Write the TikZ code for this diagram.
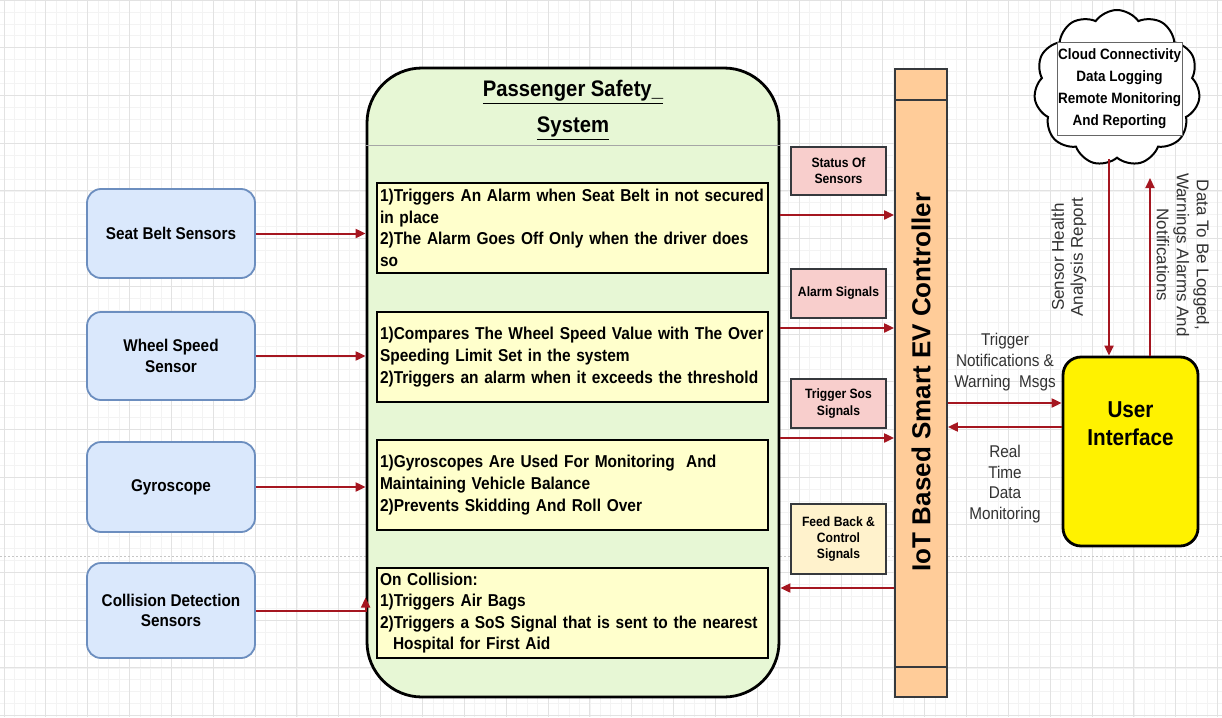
\documentclass[tikz,border=0pt]{standalone}
\usepackage{fontspec}
\setmainfont[FakeStretch=0.9]{Liberation Sans}
\newfontfamily\rotfont{Liberation Sans}
\usetikzlibrary{arrows.meta,shapes.symbols}
\definecolor{arrred}{RGB}{165,22,32}
\definecolor{sensorfill}{RGB}{218,232,252}
\definecolor{sensorborder}{RGB}{108,142,191}
\definecolor{pssfill}{RGB}{231,247,213}
\definecolor{innerfill}{RGB}{255,255,204}
\definecolor{ctrlfill}{RGB}{255,204,153}
\definecolor{labfill}{RGB}{248,206,204}
\definecolor{fbfill}{RGB}{255,242,204}
\definecolor{darkline}{RGB}{54,57,61}
\definecolor{gridmajor}{RGB}{226,226,226}
\definecolor{gridminor}{RGB}{243,243,243}
\definecolor{notetext}{RGB}{50,50,50}
\newcommand{\myfs}[2]{\fontsize{#1}{#2}\selectfont}
\begin{document}
\begin{tikzpicture}[x=1pt,y=-1pt,
  sensor/.style={draw=sensorborder, fill=sensorfill, line width=1.8pt, rounded corners=14pt,
    minimum width=168pt, align=center, font=\bfseries\myfs{17}{20.4}},
  innerbox/.style={draw=black, fill=innerfill, line width=2.2pt, minimum width=391pt,
    text width=385pt, inner sep=3pt, align=left, minimum height=90pt, font=\bfseries\myfs{17.2}{21.6}},
  lab/.style={draw=darkline, line width=1.8pt, minimum width=95pt, align=center,
    inner sep=2pt, font=\bfseries\myfs{13.5}{16.2}},
  note/.style={align=center, text=notetext, font=\myfs{17}{20.6}},
  arr/.style={draw=arrred, line width=2pt, -{Triangle[length=10pt,width=9pt]}},
  minorgrid/.style={draw=gridminor, line width=0.6pt},
  majorgrid/.style={draw=gridmajor, line width=0.8pt}]
\useasboundingbox (0,0) rectangle (1222,717);
\fill[white] (0,0) rectangle (1222,717);
% background grid
\begin{scope}
\clip (0,0) rectangle (1222,717);
\foreach \i in {0,...,117} {\draw[minorgrid] ({3.9+\i*10.4625},0) -- ++(0,717);}
\foreach \j in {0,...,60} {\draw[minorgrid] (0,{\j*11.925}) -- ++(1222,0);}
\foreach \i in {0,...,29} {\draw[majorgrid] ({3.9+\i*41.85},0) -- ++(0,717);}
\foreach \j in {0,...,15} {\draw[majorgrid] (0,{\j*47.7}) -- ++(1222,0);}
\draw[gray!45, line width=0.9pt, dash pattern=on 2pt off 2pt] (0,556) -- (1222,556);
\end{scope}

% sensors
\node[sensor, minimum height=89pt] (seat) at (171,233.5) {Seat Belt Sensors};
\node[sensor, minimum height=88pt] (wheel) at (171,356) {Wheel Speed\\Sensor};
\node[sensor, minimum height=90pt] (gyro) at (171,487) {Gyroscope};
\node[sensor, minimum height=95pt] (coll) at (171,610.5) {Collision Detection\\Sensors};

% passenger safety system
\node[draw=black, fill=pssfill, line width=2.8pt, rounded corners=55pt,
  minimum width=412pt, minimum height=629pt] (pss) at (573,382.5) {};
\draw[gray!70, line width=0.8pt] (pss.west |- 0,145) -- (pss.east |- 0,145);
\node[align=center, font=\bfseries\myfs{22.5}{36}] (title) at (573,110)
  {\underline{Passenger Safety\_}\\\underline{System}};

\node[innerbox] (b1) at (572.5,228) {\hyphenpenalty=10000 1)Triggers An Alarm when Seat Belt in not secured\\in place\\2)The Alarm Goes Off Only when the driver does\\so};
\node[innerbox] (b2) at (572.5,357) {\hyphenpenalty=10000 1)Compares The Wheel Speed Value with The Over\\Speeding Limit Set in the system\\2)Triggers an alarm when it exceeds the threshold};
\node[innerbox] (b3) at (572.5,485) {\hyphenpenalty=10000 1)Gyroscopes Are Used For Monitoring\ \ And\\Maintaining Vehicle Balance\\2)Prevents Skidding And Roll Over};
\node[innerbox] (b4) at (572.5,613) {\hyphenpenalty=10000 On Collision:\\1)Triggers Air Bags\\2)Triggers a SoS Signal that is sent to the nearest\\\hspace*{13pt}Hospital for First Aid};

% controller
\node[draw=darkline, fill=ctrlfill, line width=1.8pt, minimum width=52pt, minimum height=628pt] (ctrl) at (921,383) {};
\draw[darkline, line width=1.8pt] (ctrl.west |- 0,100) -- (ctrl.east |- 0,100);
\draw[darkline, line width=1.8pt] (ctrl.west |- 0,667) -- (ctrl.east |- 0,667);
\node[rotate=90, font=\rotfont\bfseries\myfs{26}{30}] (ctrltext) at (921,382) {IoT Based Smart EV Controller};

% signal labels
\node[lab, fill=labfill, minimum height=48pt] (lab1) at (838.5,171) {Status Of\\Sensors};
\node[lab, fill=labfill, minimum height=49pt] (lab2) at (838.5,293.5) {Alarm Signals};
\node[lab, fill=labfill, minimum height=49pt] (lab3) at (838.5,403.5) {Trigger Sos\\Signals};
\node[lab, fill=fbfill, minimum height=70pt] (lab4) at (838.5,539) {Feed Back \&\\Control\\Signals};

% user interface
\node[draw=black, fill=yellow, line width=2.8pt, rounded corners=18pt, minimum width=135pt,
  minimum height=189pt, align=center, font=\bfseries\myfs{23}{28}] (ui) at (1130.5,451.5)
  {User\\Interface\\\mbox{}\\\mbox{}};

% cloud
\node[cloud, cloud puffs=11, cloud puff arc=110, aspect=1, draw=black, fill=white, line width=2pt,
  minimum width=166pt, minimum height=156pt] (cloud) at (1117,88) {};
\node[draw=gray!80!black, fill=white, line width=0.8pt, minimum width=125pt, minimum height=93pt,
  inner sep=1pt, align=center, font=\bfseries\myfs{15}{22}] (cloudtxt) at (1119.5,88.5)
  {Cloud Connectivity\\Data Logging\\Remote Monitoring\\And Reporting};

% notes
\node[note] (n1) at (1005,362) {Trigger\\Notifications \&\\Warning\ \ Msgs};
\node[note] (n2) at (1005,484) {Real\\Time\\Data\\Monitoring};
\node[rotate=90, align=center, text=notetext, font=\rotfont\myfs{17}{19}] (n3) at (1069,257) {Sensor Health\\Analysis Report};
\node[rotate=-90, align=center, text=notetext, font=\rotfont\myfs{17}{20}] (n4) at (1183,255) {Data To Be Logged,\\Warnings Alarms And\\Notifications};

% connectors
\draw[arr] (seat.east) -- (seat.east -| pss.west);
\draw[arr] (wheel.east) -- (wheel.east -| pss.west);
\draw[arr] (gyro.east) -- (gyro.east -| pss.west);
\draw[arr] (coll.east) -| ([yshift=13pt]coll.east -| pss.west);
\draw[arr] (pss.east |- 0,215) -- (ctrl.west |- 0,215);
\draw[arr] (pss.east |- 0,328) -- (ctrl.west |- 0,328);
\draw[arr] (pss.east |- 0,438) -- (ctrl.west |- 0,438);
\draw[arr] (ctrl.west |- 0,588) -- (pss.east |- 0,588);
\draw[arr] (ctrl.east |- 0,403) -- (ui.west |- 0,403);
\draw[arr] (ui.west |- 0,427) -- (ctrl.east |- 0,427);
\draw[arr] (cloud.south -| 1109,0) -- (ui.north -| 1109,0);
\draw[arr] (ui.north -| 1150,0) -- (1150,178);
\end{tikzpicture}
\end{document}
